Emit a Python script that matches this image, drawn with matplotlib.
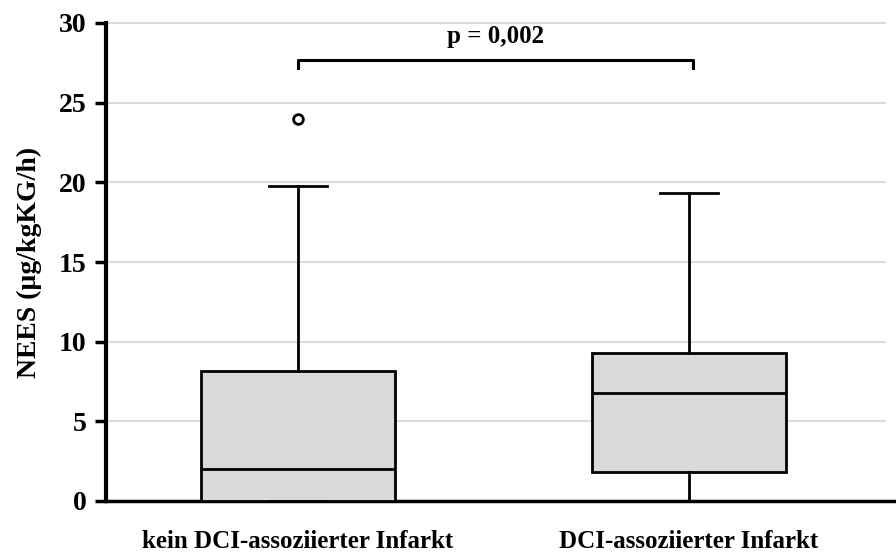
import matplotlib
matplotlib.use("Agg")
import matplotlib.pyplot as plt

plt.rcParams["font.family"] = ["Liberation Serif", "DejaVu Serif"]
plt.rcParams["font.weight"] = "bold"

groups = ["kein DCI-assoziierter Infarkt", "DCI-assoziierter Infarkt"]
whisker_low = [0.0, 0.0]
q1 = [0.0, 1.85]
median = [2.0, 6.8]
q3 = [8.15, 9.3]
whisker_high = [19.75, 19.3]
outliers = [[23.95], []]
p_label = "p = 0,002"
y_ticks = [0, 5, 10, 15, 20, 25, 30]

fig = plt.figure(figsize=(8.96, 5.53), dpi=100)
ax = fig.add_axes([106 / 896, 1 - 501 / 553, 1 - 106 / 896, (501 - 23) / 553])

stats = []
for i, name in enumerate(groups):
    stats.append(dict(label=name, whislo=whisker_low[i], q1=q1[i], med=median[i],
                      q3=q3[i], whishi=whisker_high[i], fliers=outliers[i]))

positions = [1, 2]
art = ax.bxp(stats, positions=positions, widths=0.496, patch_artist=True,
             capwidths=0.148,
             boxprops=dict(facecolor="#d9d9d9", edgecolor="black", linewidth=2),
             medianprops=dict(color="black", linewidth=2),
             whiskerprops=dict(color="black", linewidth=2),
             capprops=dict(color="black", linewidth=2),
             flierprops=dict(marker="o", markersize=7, markerfacecolor="white",
                             markeredgecolor="black", markeredgewidth=2),
             zorder=3)
for cap in art["caps"]:
    cap.set_clip_on(False)
    cap.set_zorder(5)

ax.set_xlim(0.509, 2.529)
ax.set_ylim(0, 30)

# horizontal grid lines that stop short of the right edge
for t in y_ticks[1:]:
    ax.plot([0.509, 2.50], [t, t], color="#dcdcdc", linewidth=1.5, zorder=1,
            clip_on=False)

ax.set_yticks(y_ticks)
ax.set_yticklabels([str(t) for t in y_ticks], fontsize=20, fontweight="bold")
ax.set_xticks(positions)
ax.set_xticklabels(groups, fontsize=18, fontweight="bold")
ax.tick_params(axis="y", direction="out", length=8, width=2.5, pad=6)
ax.tick_params(axis="x", length=0, pad=21)

for s in ["top", "right"]:
    ax.spines[s].set_visible(False)
ax.spines["left"].set_linewidth(3)
ax.spines["bottom"].set_linewidth(2.5)

ax.set_ylabel("NEES (µg/kgKG/h)", fontsize=20, fontweight="bold", labelpad=12)

# significance bracket
bx0, bx1 = 1.0, 2.01
by, bh = 27.7, 0.55
ax.plot([bx0, bx0, bx1, bx1], [by - bh, by, by, by - bh], color="black",
        linewidth=2.2, clip_on=False, zorder=4)
ax.text((bx0 + bx1) / 2, by + 0.75, p_label, ha="center", va="bottom",
        fontsize=18, fontweight="bold")

fig.savefig("out.png", dpi=100)
